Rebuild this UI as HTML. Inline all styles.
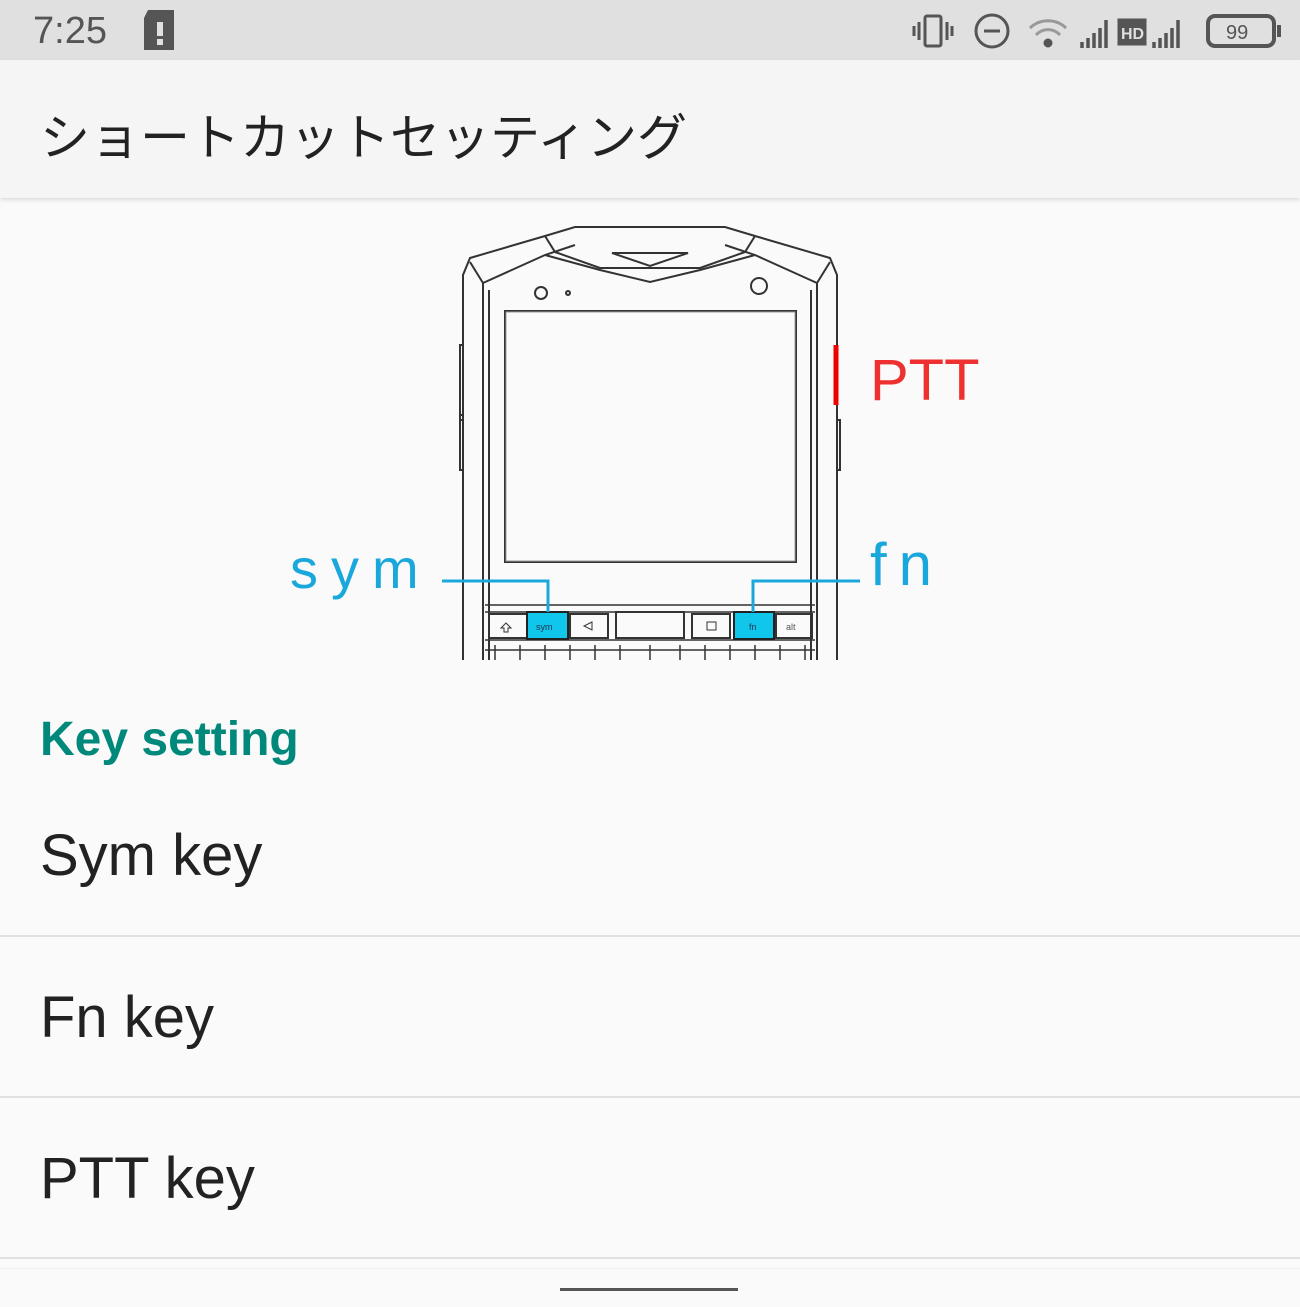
<!DOCTYPE html>
<html><head><meta charset="utf-8"><style>
body{margin:0;width:1300px;height:1307px;background:#fafafa;font-family:"Liberation Sans","Noto Sans CJK JP",sans-serif;position:relative;overflow:hidden}
.sb{position:absolute;left:0;top:0;width:1300px;height:60px;background:#e0e0e0}
.ab{position:absolute;left:0;top:60px;width:1300px;height:138px;background:#f5f5f5;box-shadow:0 2px 4px rgba(0,0,0,.12)}
.t{position:absolute;white-space:nowrap}
.div{position:absolute;left:0;width:1300px;height:2px;background:#e0e0e0}
</style></head><body>
<div class="sb"></div>
<div class="t" style="left:33px;top:10px;font-size:38px;color:#555">7:25</div>
<svg style="position:absolute;left:140px;top:8px" width="45" height="46"><path d="M8 2h26v40H4V10z" fill="#555"/><rect x="17" y="14" width="6" height="14" fill="#e0e0e0"/><rect x="17" y="31" width="6" height="6" fill="#e0e0e0"/></svg>
<svg style="position:absolute;left:910px;top:8px" width="380" height="46" fill="none" stroke="#555" stroke-width="3">
<rect x="15" y="8" width="16" height="30" rx="2"/><path d="M9 14v18M4 18v10M37 14v18M42 18v10"/>
<circle cx="82" cy="23" r="16"/><path d="M74 23h16"/>
<path d="M120 20a26 26 0 0 1 36 0M126 27a16 16 0 0 1 24 0" stroke="#999"/><circle cx="138" cy="35" r="3" fill="#555"/>
<path d="M172 40v-6M178 40v-10M184 40v-15M190 40v-20M196 40v-28" stroke-width="3.5"/>
<rect x="209" y="12" width="26" height="24" fill="#555"/><text x="211" y="31" font-size="16" fill="#e0e0e0" stroke="none" font-weight="bold">HD</text>
<path d="M244 40v-6M250 40v-10M256 40v-15M262 40v-20M268 40v-28" stroke-width="3.5"/>
<rect x="298" y="8" width="66" height="30" rx="7" stroke-width="4"/><path d="M369 17v12" stroke-width="4"/>
<text x="316" y="31" font-size="20" fill="#555" stroke="none">99</text></svg>
<div class="ab"></div>
<div class="t" style="left:40px;top:98px;font-size:50px;color:#222">ショートカットセッティング</div>

<svg style="position:absolute;left:280px;top:220px" width="740" height="440" fill="none" stroke="#333" stroke-width="2">
<g transform="translate(-280,-220)">
<path d="M463 660V275L470 258L545 236L575 227H725L755 236L830 258L837 275V660"/>
<path d="M470 262L483 283L545 255L575 245M830 262L817 283L755 255L725 245"/>
<path d="M545 236L555 252L600 268H700L745 252L755 236" />
<path d="M612 253H688L650 266Z"/>
<path d="M483 283V660M817 283V660M489 290V660M811 290V660"/>
<path d="M545 255L600 270L650 282L700 270L755 255"/>
<circle cx="541" cy="293" r="6"/><circle cx="568" cy="293" r="2"/><circle cx="759" cy="286" r="8"/>
<rect x="505" y="311" width="291" height="251"/>
<rect x="506" y="312" width="289" height="249" stroke="#999" stroke-width="1"/>
<path d="M463 345h-3v75h3M463 415h-3v55h3M837 420h3v50h-3"/>
<path d="M836 345v60" stroke="#e00" stroke-width="5"/>
<path d="M485 605H815M485 612H815M485 640H815M485 650H815" stroke-width="1.5"/>
<rect x="489" y="614" width="38" height="24"/><rect x="570" y="614" width="38" height="24"/>
<rect x="616" y="612" width="68" height="26"/><rect x="692" y="614" width="38" height="24"/><rect x="776" y="614" width="36" height="24"/>
<rect x="527" y="612" width="41" height="27" fill="#10c6ea" stroke="#222"/>
<rect x="734" y="612" width="40" height="27" fill="#10c6ea" stroke="#222"/>
<path d="M506 623l-5 5h3v4h4v-4h3z" stroke-width="1"/><path d="M592 622l-8 4 8 4z" stroke-width="1"/><rect x="707" y="622" width="9" height="8" stroke-width="1"/>
<path d="M495 645v15M520 645v15M545 645v15M570 645v15M595 645v15M620 645v15M650 645v15M680 645v15M705 645v15M730 645v15M755 645v15M780 645v15M805 645v15" stroke-width="1.5"/>
<text x="536" y="630" font-size="9" fill="#235" stroke="none">sym</text><text x="749" y="630" font-size="9" fill="#235" stroke="none">fn</text><text x="786" y="630" font-size="9" fill="#555" stroke="none">alt</text>
<path d="M442 581H548V612M860 581H753V612" stroke="#1aa8dc" stroke-width="3"/>
</g></svg>
<div class="t" style="left:290px;top:536px;font-size:56px;color:#1aa8dc;letter-spacing:13px">sym</div>
<div class="t" style="left:870px;top:530px;font-size:60px;color:#1aa8dc;letter-spacing:12px">fn</div>
<div class="t" style="left:870px;top:347px;font-size:58px;color:#ee3030">PTT</div>

<div class="t" style="left:40px;top:712px;font-size:48px;color:#00897b;font-weight:bold">Key setting</div>
<div class="t" style="left:40px;top:822px;font-size:58px;color:#222">Sym key</div>
<div class="div" style="top:935px"></div>
<div class="t" style="left:40px;top:984px;font-size:58px;color:#222">Fn key</div>
<div class="div" style="top:1096px"></div>
<div class="t" style="left:40px;top:1145px;font-size:58px;color:#222">PTT key</div>
<div class="div" style="top:1257px"></div>
<div class="div" style="top:1268px;height:1px;background:#eee"></div>
<div style="position:absolute;left:560px;top:1288px;width:178px;height:3px;background:#555"></div>
</body></html>
